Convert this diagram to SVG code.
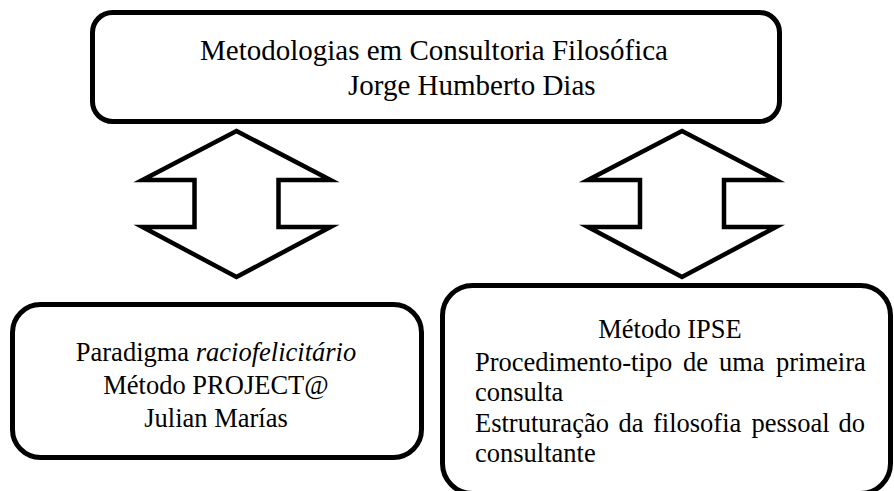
<svg xmlns="http://www.w3.org/2000/svg" width="894" height="491" viewBox="0 0 894 491">
<style>
.box{fill:#fff;stroke:#000;stroke-width:5}
.arr{fill:#fff;stroke:#000;stroke-width:4.5;stroke-linejoin:miter;stroke-miterlimit:10}
.t{font-family:"Liberation Serif","Times New Roman",serif;fill:#000}
.t29{font-size:29px}
.t26{font-size:26.5px}
</style>
<rect width="894" height="491" fill="#fff"/>
<g id="connectors">
<polygon class="arr" points="236.5,131 330.5,180 278.5,180 278.5,227 330.5,227 236.5,277 142.5,227 194.5,227 194.5,180 142.5,180"/>
<polygon class="arr" points="682,131 776,180 724,180 724,227 776,227 682,277 588,227 640,227 640,180 588,180"/>
</g>
<g id="node-top">
<rect class="box" x="92.5" y="12.5" width="687" height="109" rx="20"/>
<text class="t t29" x="200" y="60">Metodologias em Consultoria Filosófica</text>
<text class="t t29" x="348" y="95">Jorge Humberto Dias</text>
</g>
<g id="node-left">
<rect class="box" x="12.5" y="304.5" width="409" height="153" rx="28"/>
<text class="t t26" x="216" y="361" text-anchor="middle">Paradigma <tspan font-style="italic">raciofelicitário</tspan></text>
<text class="t t26" x="216" y="394" text-anchor="middle">Método PROJECT@</text>
<text class="t t26" x="216" y="427" text-anchor="middle">Julian Marías</text>
</g>
<g id="node-right">
<rect class="box" x="442.5" y="285.5" width="448" height="208" rx="30"/>
<text class="t t26" x="670" y="338" text-anchor="middle">Método IPSE</text>
<text class="t t26" y="371"><tspan x="475">Procedimento-tipo</tspan><tspan x="683">de</tspan><tspan x="719">uma</tspan><tspan x="776">primeira</tspan></text>
<text class="t t26" x="475" y="401">consulta</text>
<text class="t t26" y="432"><tspan x="475">Estruturação</tspan><tspan x="618.5">da</tspan><tspan x="653">filosofia</tspan><tspan x="751.5">pessoal</tspan><tspan x="838.5">do</tspan></text>
<text class="t t26" x="475" y="462">consultante</text>
</g>
</svg>
